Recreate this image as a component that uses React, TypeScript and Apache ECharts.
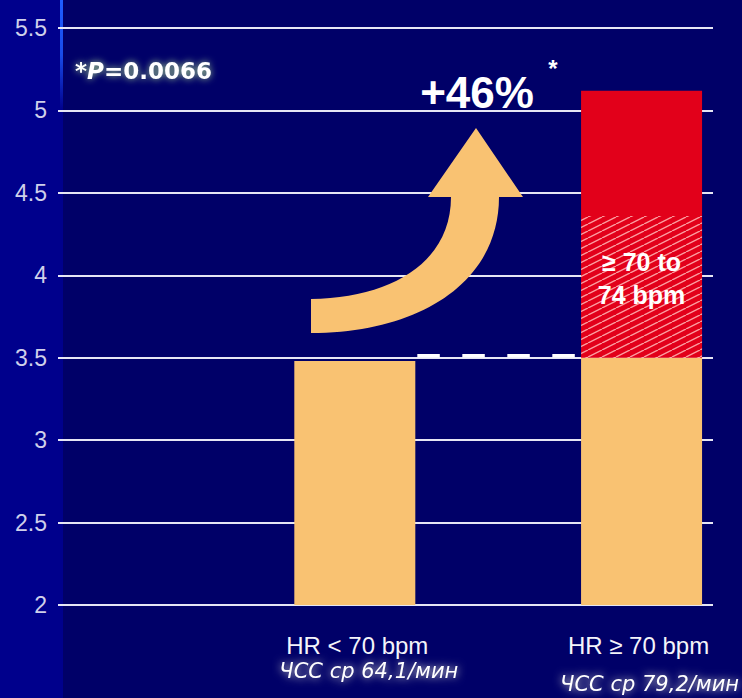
import React, { useEffect, useRef } from 'react';
import * as echarts from 'echarts';

// ---- data ----
const categories = ['HR < 70 bpm', 'HR ≥ 70 bpm'];
const subLabels = ['ЧСС ср 64,1/мин', 'ЧСС ср 79,2/мин'];
const baseValues = [3.48, 3.5];
const hatchTops: (number | null)[] = [null, 4.36];
const totalValues: (number | null)[] = [null, 5.12];
const yMin = 2;
const yMax = 5.5;
const yStep = 0.5;
const bandLabel = '≥ 70 to\n74 bpm';
const increaseText = '+46%';
const pValue = '0.0066';

const ARROW_D =
  'M311,299 C392,298 451,262 451,197 L428,197 L476,128 L523,197 L499,197 C499,282 420,333 311,333 Z';
echarts.graphic.registerShape('arrowShape', echarts.graphic.extendPath(ARROW_D, {}) as any);

const ORANGE = '#f9c272';
const RED = '#e2001a';
const BG = '#000068';
const SANS = '"Liberation Sans", Arial, sans-serif';
const DEJA = '"DejaVu Sans", Verdana, sans-serif';

// slots on the bar axis: a spacer before each category
const slots = categories.flatMap((c, i) => ['gap' + i, c]);
const toSlots = (arr: (number | null)[]) =>
  arr.flatMap((v) => ['-', v == null ? '-' : v]);

export default function App() {
  const ref = useRef<HTMLDivElement>(null);
  useEffect(() => {
    if (!ref.current) return;
    const chart = echarts.init(ref.current, undefined, { renderer: 'svg' });

    const hatchCanvas = document.createElement('canvas');
    hatchCanvas.width = 14;
    hatchCanvas.height = 7;
    const ctx = hatchCanvas.getContext('2d')!;
    ctx.fillStyle = RED;
    ctx.fillRect(0, 0, 14, 7);
    ctx.strokeStyle = 'rgba(255,185,185,0.85)';
    ctx.lineWidth = 1.4;
    ctx.beginPath();
    ctx.moveTo(-14, 7); ctx.lineTo(0, 0);
    ctx.moveTo(0, 7); ctx.lineTo(14, 0);
    ctx.moveTo(14, 7); ctx.lineTo(28, 0);
    ctx.stroke();

    const hatchDiff = hatchTops.map((t, i) => (t == null ? null : +(t - baseValues[i]).toFixed(2)));
    const redDiff = totalValues.map((t, i) =>
      t == null ? null : +(t - (hatchTops[i] ?? baseValues[i])).toFixed(2)
    );

    const rich: any = {};
    categories.forEach((_, k) => {
      rich['a' + k] = {
        fontFamily: SANS,
        fontSize: 24,
        lineHeight: 30,
        color: '#f4f4fa',
        padding: k === 0 ? [0, 0, 0, 5] : [0, 6, 0, 0],
      };
      rich['b' + k] = {
        fontFamily: DEJA,
        fontStyle: 'italic',
        fontSize: 21,
        lineHeight: k === 0 ? 22 : 48,
        color: '#ffffff',
        textShadowColor: 'rgba(255,255,225,0.9)',
        textShadowBlur: 8,
        padding: k === 0 ? [0, 0, 0, 28] : [0, 0, 0, 16],
      };
    });

    chart.setOption({
      animation: false,
      backgroundColor: BG,
      grid: [
        { left: 58, right: 29, top: 28, bottom: 93 },
        { left: 139.75, right: 28.25, top: 28, bottom: 93 },
      ],
      xAxis: [
        { type: 'category', gridIndex: 0, data: slots, show: false },
        {
          type: 'category',
          gridIndex: 1,
          data: slots,
          axisLine: { show: false },
          axisTick: { show: false },
          axisLabel: {
            interval: 0,
            margin: 25,
            formatter: (v: string, idx: number) => {
              if (idx % 2 === 0) return '';
              const k = (idx - 1) / 2;
              return `{a${k}|${categories[k]}}\n{b${k}|${subLabels[k]}}`;
            },
            rich,
          },
        },
      ],
      yAxis: [
        {
          type: 'value',
          gridIndex: 0,
          min: yMin,
          max: yMax,
          interval: yStep,
          axisLine: { show: false },
          axisTick: { show: false },
          splitLine: { lineStyle: { color: '#e6e6f4', width: 2 } },
          axisLabel: {
            color: '#cfd0ea',
            fontFamily: SANS,
            fontSize: 23,
            margin: 11,
            padding: [0, 0, 10, 0],
          },
        },
        { type: 'value', gridIndex: 1, min: yMin, max: yMax, interval: yStep, show: false, splitLine: { show: false } },
      ],
      series: [
        {
          type: 'bar',
          xAxisIndex: 1,
          yAxisIndex: 1,
          stack: 'hr',
          barWidth: 121,
          data: toSlots(baseValues),
          itemStyle: { color: ORANGE },
          z: 3,
        },
        {
          type: 'bar',
          xAxisIndex: 1,
          yAxisIndex: 1,
          stack: 'hr',
          barWidth: 121,
          data: toSlots(hatchDiff),
          itemStyle: { color: { image: hatchCanvas, repeat: 'repeat' } as any },
          label: {
            show: true,
            position: 'inside',
            formatter: bandLabel,
            color: '#ffffff',
            fontFamily: SANS,
            fontWeight: 'bold',
            fontSize: 25,
            lineHeight: 33,
            offset: [0, -8],
          },
          z: 3,
        },
        {
          type: 'bar',
          xAxisIndex: 1,
          yAxisIndex: 1,
          stack: 'hr',
          barWidth: 121,
          data: toSlots(redDiff),
          itemStyle: { color: RED },
          z: 3,
        },
      ],
    });

    const finder = { xAxisIndex: 1, yAxisIndex: 1 } as any;
    const p1 = chart.convertToPixel(finder, [1, baseValues[1]]) as number[];
    const p2 = chart.convertToPixel(finder, [3, baseValues[1]]) as number[];
    const half = 121 / 2;

    const pStyle = {
      fontFamily: DEJA,
      fontWeight: 'bold',
      fontSize: 23,
      fill: '#ffffff',
      textShadowColor: 'rgba(200,255,150,0.8)',
      textShadowBlur: 7,
    };

    chart.setOption({
      graphic: {
        elements: [
          {
            type: 'rect',
            z: -10,
            shape: { x: 0, y: 0, width: 63, height: 698 },
            style: { fill: '#00008c' },
            silent: true,
          },
          {
            type: 'rect',
            z: -9,
            shape: { x: 60, y: 0, width: 3, height: 110 },
            style: {
              fill: new echarts.graphic.LinearGradient(0, 0, 0, 1, [
                { offset: 0, color: '#1f5dff' },
                { offset: 0.5, color: 'rgba(31,93,255,0.8)' },
                { offset: 1, color: 'rgba(31,93,255,0)' },
              ]),
            },
            silent: true,
          },
          {
            type: 'line',
            z: 10,
            shape: { x1: p1[0] + half + 2, y1: p1[1] - 2, x2: p2[0] - half, y2: p2[1] - 2 },
            style: { stroke: '#ffffff', lineWidth: 3.5, lineDash: [22.5, 22.5] },
            silent: true,
          },
          {
            type: 'arrowShape',
            x: 0,
            y: 0,
            z: 10,
            style: { fill: ORANGE },
            silent: true,
          },
          {
            type: 'text',
            z: 10,
            x: 477,
            y: 92,
            style: {
              text: increaseText,
              fill: '#ffffff',
              font: `bold 44px ${SANS}`,
              align: 'center',
              verticalAlign: 'middle',
            },
          },
          {
            type: 'text',
            z: 10,
            x: 553,
            y: 68,
            style: {
              text: '*',
              fill: '#ffffff',
              font: `bold 24px ${SANS}`,
              align: 'center',
              verticalAlign: 'middle',
            },
          },
          {
            type: 'text',
            z: 10,
            x: 75,
            y: 71,
            style: {
              text: `{s|*}{p|P}{s|=${pValue}}`,
              verticalAlign: 'middle',
              rich: {
                s: pStyle,
                p: { ...pStyle, fontStyle: 'italic' },
              },
            },
          },
        ],
      },
    });

    return () => chart.dispose();
  }, []);

  return (
    <div
      ref={ref}
      style={{ position: 'absolute', left: 0, top: 0, width: 742, height: 698 }}
    />
  );
}
